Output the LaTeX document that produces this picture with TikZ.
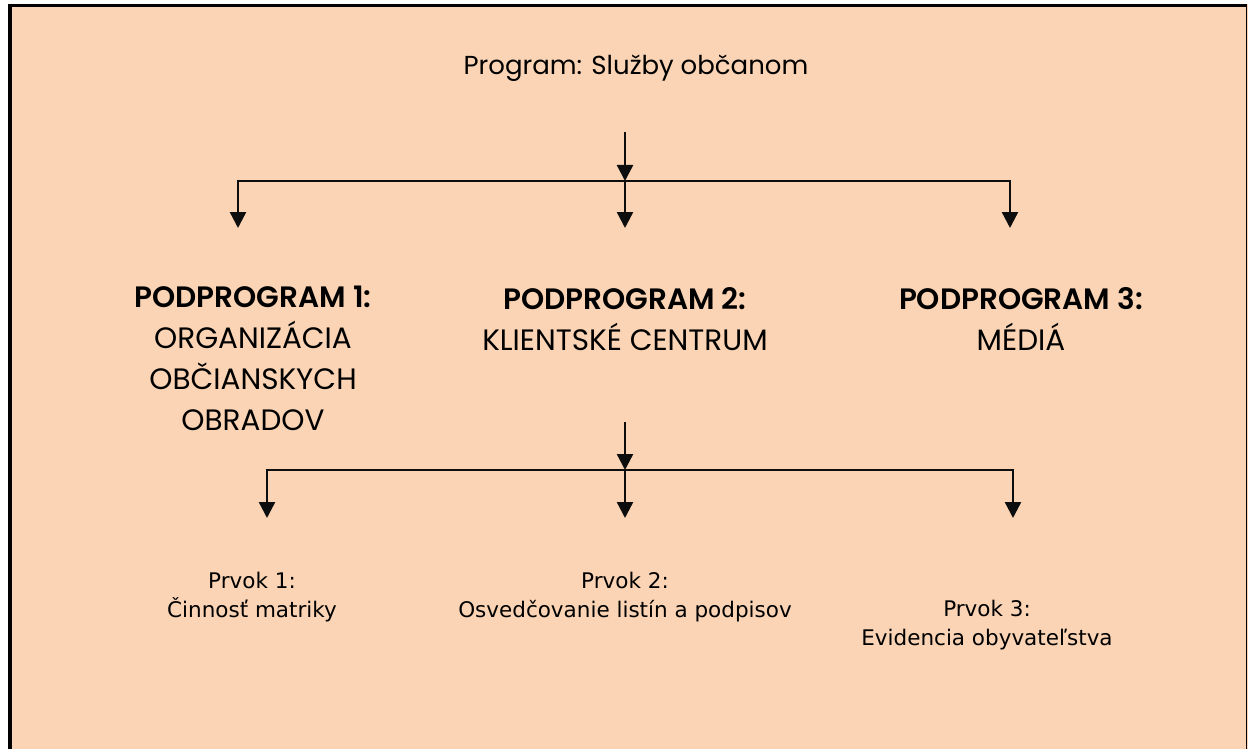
\documentclass[tikz,border=0pt]{standalone}
\usepackage{fontspec}
\setmainfont{DejaVu Sans}
\newfontfamily\gothic[BoldFont={Poppins SemiBold}]{Poppins}
\usetikzlibrary{arrows.meta, positioning}
\definecolor{peach}{RGB}{250,212,180}
\definecolor{mainBlack}{gray}{0.05}

\tikzset{
  title/.style={font=\gothic\fontsize{26}{36}\selectfont, inner sep=0pt},
  head/.style={font=\gothic\fontsize{29.5}{40.7}\selectfont, align=center, inner sep=0pt},
  item/.style={font=\fontsize{21.5}{29}\selectfont, align=center, inner sep=0pt},
  conn/.style={line width=2.4pt, mainBlack, -{Triangle[length=16pt,width=16pt]}},
}

\begin{document}
\begin{tikzpicture}[x=1pt, y=-1pt]
    \useasboundingbox (0,0) rectangle (1248,749);
    % ramcek
    \fill[peach] (8,4) rectangle (1248,749);
    \fill[black] (8,4) rectangle (12,749);
    \fill[black] (8,4) rectangle (1247,7);
    \fill[black] (1246,4) rectangle (1247,749);

    \node[title, anchor=base] (prog) at (636,75) {Program: Služby občanom};

    % base = posledny riadok
    \node[head, anchor=base] (sub1) at (253,430) {\textbf{PODPROGRAM 1:}\\ORGANIZÁCIA\\OBČIANSKYCH\\OBRADOV};
    \node[head, anchor=base] (sub2) at (625,350) {\textbf{PODPROGRAM 2:}\\KLIENTSKÉ CENTRUM};
    \node[head, anchor=base] (sub3) at (1021,350) {\textbf{PODPROGRAM 3:}\\MÉDIÁ};

    \node[item, anchor=base] (prv1) at (252,617) {Prvok 1:\\Činnosť matriky};
    \node[item, anchor=base] (prv2) at (625,617) {Prvok 2:\\Osvedčovanie listín a podpisov};
    \node[item, anchor=base] (prv3) at (987,645) {Prvok 3:\\Evidencia obyvateľstva};

    \coordinate (t0) at (625,132);
    \coordinate (j1) at (625,181);
    \coordinate (a1) at (238,228);
    \coordinate (a2) at (625,228);
    \coordinate (a3) at (1010,228);

    \coordinate (t1) at (625,422);
    \coordinate (j2) at (625,470);
    \coordinate (b1) at (267,518);
    \coordinate (b2) at (625,518);
    \coordinate (b3) at (1013,518);

    \draw[conn] (t0) -- (j1);
    \draw[conn] (j1) -| (a1);
    \draw[conn] (j1) -- (a2);
    \draw[conn] (j1) -| (a3);

    \draw[conn] (t1) -- (j2);
    \draw[conn] (j2) -| (b1);
    \draw[conn] (j2) -- (b2);
    \draw[conn] (j2) -| (b3);
\end{tikzpicture}
\end{document}
